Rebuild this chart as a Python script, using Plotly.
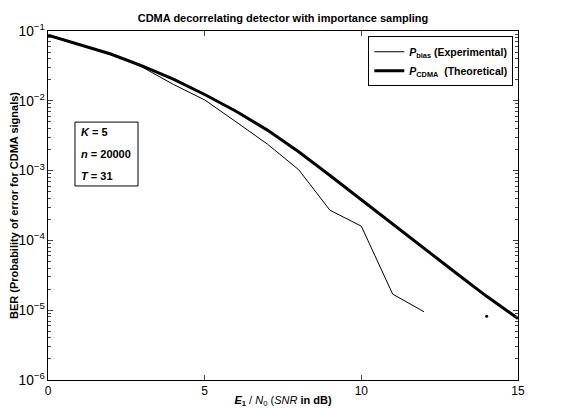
import plotly.graph_objects as go

# SNR (dB)
snr = list(range(0, 16))
# Theoretical BER (P_CDMA)
ber_theory = [0.0871, 0.0646, 0.0468, 0.0316, 0.0204, 0.0123, 0.00708, 0.00380,
              0.00186, 0.000851, 0.000380, 0.000170, 0.0000759, 0.0000347,
              0.0000158, 0.0000076]
# Experimental BER (P_bias), 0..12 dB
snr_exp = list(range(0, 13))
ber_exp = [0.086, 0.0640, 0.0463, 0.0305, 0.0172, 0.0103, 0.0050, 0.0024,
           0.00103, 0.00027, 0.00016, 0.000017, 0.0000095]
# Isolated experimental point
snr_iso = [14]
ber_iso = [0.0000082]

xtick_vals = [0, 5, 10, 15]
info_lines = ["<b><i>K</i> = 5</b>", "<b><i>n</i> = 20000</b>", "<b><i>T</i> = 31</b>"]

FONT = "Liberation Sans, Arial, sans-serif"

fig = go.Figure()
fig.add_trace(go.Scatter(
    x=snr_exp, y=ber_exp, mode="lines",
    line=dict(color="black", width=1),
    name="<b><i>P</i><sub>bias</sub> (Experimental)</b>"))
fig.add_trace(go.Scatter(
    x=snr, y=ber_theory, mode="lines",
    line=dict(color="black", width=3),
    name="<b><i>P</i><sub>CDMA</sub>  (Theoretical)</b>"))
fig.add_trace(go.Scatter(
    x=snr_iso, y=ber_iso, mode="markers",
    marker=dict(color="black", size=3),
    showlegend=False))

# page body has an 8px margin: figure is drawn at (8, 8)
fig.update_layout(
    width=554, height=400,
    margin=dict(l=40, r=44, t=23, b=28, autoexpand=False),
    paper_bgcolor="white", plot_bgcolor="white",
    font=dict(family=FONT, color="black", size=11),
    title=dict(text="<b>CDMA decorrelating detector with importance sampling</b>",
               x=0.5, xref="paper", xanchor="center", y=1, yref="paper",
               yanchor="bottom", pad=dict(b=9), font=dict(size=11),
               automargin=False),
    legend=dict(x=0.99, y=0.985, xanchor="right", yanchor="top",
                bordercolor="black", borderwidth=1, bgcolor="white",
                font=dict(size=10.5)),
    showlegend=True,
)
fig.update_xaxes(
    range=[0, 15], tickvals=xtick_vals, ticks="inside", ticklen=5,
    tickfont=dict(size=12),
    showline=True, linecolor="black", linewidth=1, mirror="ticks",
    showgrid=False, zeroline=False, automargin=False,
    title=dict(text="<b><i>E</i><sub>1</sub></b> / <i>N</i><sub>0</sub> (<i>SNR</i> <b>in dB)</b>",
               font=dict(size=11), standoff=0))
fig.update_yaxes(
    type="log", range=[-6, -1], dtick=1, exponentformat="power",
    ticks="inside", ticklen=5, tickfont=dict(size=11),
    minor=dict(ticks="inside", ticklen=3, dtick="D1", showgrid=False),
    showline=True, linecolor="black", linewidth=1, mirror="ticks",
    showgrid=False, zeroline=False, automargin=False,
    title=dict(text="<b>BER (Probability of error for CDMA signals)</b>",
               font=dict(size=11), standoff=8))

# info box
fig.add_shape(type="rect", xref="paper", yref="paper",
              x0=0.0574, x1=0.1915, y0=0.556, y1=0.739,
              line=dict(color="black", width=1), fillcolor="white", layer="above")
for txt, yy in zip(info_lines, [0.711, 0.648, 0.585]):
    fig.add_annotation(xref="paper", yref="paper", x=0.066, y=yy,
                       xanchor="left", yanchor="middle", text=txt,
                       showarrow=False, font=dict(size=11))

fig.write_html("out.html")
